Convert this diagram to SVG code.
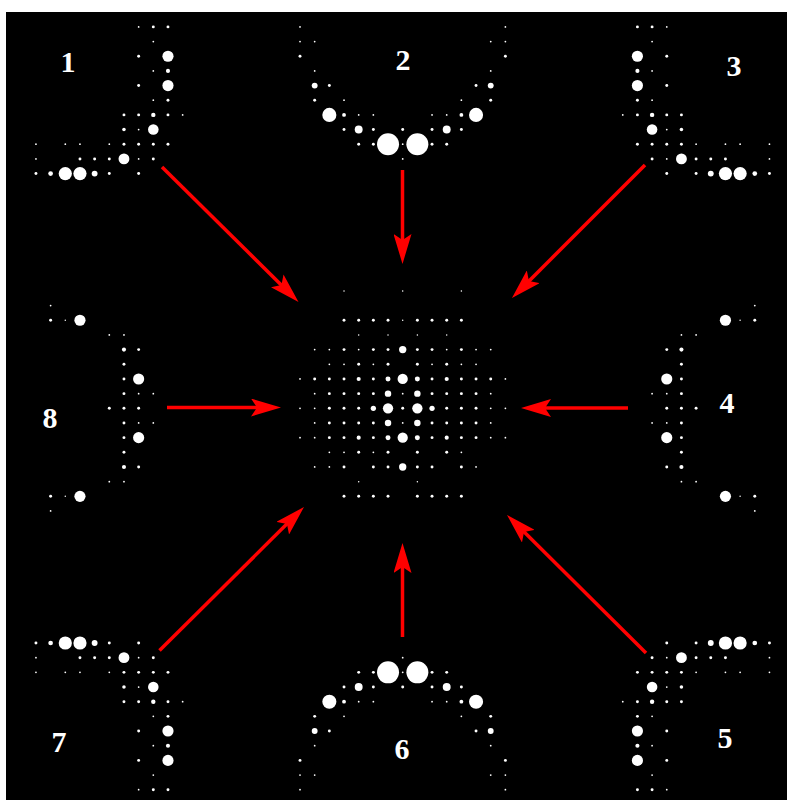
<svg xmlns="http://www.w3.org/2000/svg" xmlns:xlink="http://www.w3.org/1999/xlink" width="787" height="800" viewBox="0 0 787 800">
<style>
.lbl{font-family:"Liberation Serif","Times New Roman",serif;font-weight:bold;font-size:30px;fill:#fff;text-anchor:middle}
.arrow{stroke:#ff0000;stroke-width:3.5;fill:none;marker-end:url(#ah)}
.spots circle{fill:#fff}
</style>
<defs>
<marker id="ah" viewBox="0 0 30 18" refX="10" refY="9" markerWidth="30" markerHeight="18" markerUnits="userSpaceOnUse" orient="auto">
<path d="M0,0 L30,9 L0,18 L6,9 Z" fill="#ff0000"/>
</marker>
<g id="p1" class="spots">
<circle cx="-18" cy="-26" r="0.06"/><circle cx="-17" cy="-26" r="0.1"/><circle cx="-16" cy="-26" r="0.1"/>
<circle cx="-17" cy="-25" r="0.06"/>
<circle cx="-18" cy="-24" r="0.1"/><circle cx="-16" cy="-24" r="0.38"/>
<circle cx="-17" cy="-23" r="0.06"/><circle cx="-16" cy="-23" r="0.14"/>
<circle cx="-18" cy="-22" r="0.1"/><circle cx="-16" cy="-22" r="0.38"/>
<circle cx="-17" cy="-21" r="0.06"/><circle cx="-16" cy="-21" r="0.1"/>
<circle cx="-19" cy="-20" r="0.1"/><circle cx="-18" cy="-20" r="0.1"/><circle cx="-17" cy="-20" r="0.15"/><circle cx="-16" cy="-20" r="0.1"/><circle cx="-15" cy="-20" r="0.06"/>
<circle cx="-19" cy="-19" r="0.12"/><circle cx="-18" cy="-19" r="0.06"/><circle cx="-17" cy="-19" r="0.36"/>
<circle cx="-25" cy="-18" r="0.06"/><circle cx="-23" cy="-18" r="0.06"/><circle cx="-22" cy="-18" r="0.06"/><circle cx="-20" cy="-18" r="0.06"/><circle cx="-19" cy="-18" r="0.1"/><circle cx="-18" cy="-18" r="0.1"/><circle cx="-17" cy="-18" r="0.1"/><circle cx="-16" cy="-18" r="0.1"/>
<circle cx="-25" cy="-17" r="0.06"/><circle cx="-22" cy="-17" r="0.1"/><circle cx="-21" cy="-17" r="0.1"/><circle cx="-20" cy="-17" r="0.1"/><circle cx="-19" cy="-17" r="0.37"/><circle cx="-18" cy="-17" r="0.06"/><circle cx="-17" cy="-17" r="0.1"/>
<circle cx="-25" cy="-16" r="0.1"/><circle cx="-24" cy="-16" r="0.16"/><circle cx="-23" cy="-16" r="0.45"/><circle cx="-22" cy="-16" r="0.45"/><circle cx="-21" cy="-16" r="0.2"/><circle cx="-20" cy="-16" r="0.1"/><circle cx="-18" cy="-16" r="0.1"/>
</g>
<g id="p2" class="spots">
<circle cx="-7" cy="-26" r="0.06"/><circle cx="7" cy="-26" r="0.06"/>
<circle cx="-7" cy="-25" r="0.06"/><circle cx="-6" cy="-25" r="0.06"/><circle cx="6" cy="-25" r="0.06"/><circle cx="7" cy="-25" r="0.06"/>
<circle cx="-7" cy="-24" r="0.1"/><circle cx="7" cy="-24" r="0.1"/>
<circle cx="-6" cy="-23" r="0.06"/><circle cx="6" cy="-23" r="0.06"/>
<circle cx="-6" cy="-22" r="0.2"/><circle cx="-5" cy="-22" r="0.1"/><circle cx="5" cy="-22" r="0.1"/><circle cx="6" cy="-22" r="0.2"/>
<circle cx="-6" cy="-21" r="0.1"/><circle cx="-4" cy="-21" r="0.06"/><circle cx="4" cy="-21" r="0.06"/><circle cx="6" cy="-21" r="0.1"/>
<circle cx="-5" cy="-20" r="0.48"/><circle cx="-4" cy="-20" r="0.13"/><circle cx="-3" cy="-20" r="0.06"/><circle cx="-2" cy="-20" r="0.06"/><circle cx="2" cy="-20" r="0.06"/><circle cx="3" cy="-20" r="0.06"/><circle cx="4" cy="-20" r="0.13"/><circle cx="5" cy="-20" r="0.48"/>
<circle cx="-4" cy="-19" r="0.1"/><circle cx="-3" cy="-19" r="0.27"/><circle cx="-2" cy="-19" r="0.1"/><circle cx="0" cy="-19" r="0.1"/><circle cx="2" cy="-19" r="0.1"/><circle cx="3" cy="-19" r="0.27"/><circle cx="4" cy="-19" r="0.1"/>
<circle cx="-3" cy="-18" r="0.1"/><circle cx="-2" cy="-18" r="0.1"/><circle cx="-1" cy="-18" r="0.75"/><circle cx="0" cy="-18" r="0.06"/><circle cx="1" cy="-18" r="0.75"/><circle cx="2" cy="-18" r="0.1"/><circle cx="3" cy="-18" r="0.1"/>
<circle cx="0" cy="-17" r="0.06"/>
</g>
<g id="p8" class="spots">
<circle cx="-24" cy="-7" r="0.06"/>
<circle cx="-24" cy="-6" r="0.1"/><circle cx="-23" cy="-6" r="0.05"/><circle cx="-22" cy="-6" r="0.38"/>
<circle cx="-20" cy="-5" r="0.06"/><circle cx="-19" cy="-5" r="0.06"/>
<circle cx="-19" cy="-4" r="0.14"/><circle cx="-18" cy="-4" r="0.1"/>
<circle cx="-19" cy="-3" r="0.1"/>
<circle cx="-19" cy="-2" r="0.1"/><circle cx="-18" cy="-2" r="0.38"/>
<circle cx="-19" cy="-1" r="0.1"/><circle cx="-18" cy="-1" r="0.06"/><circle cx="-17" cy="-1" r="0.06"/>
<circle cx="-20" cy="0" r="0.1"/><circle cx="-19" cy="0" r="0.1"/><circle cx="-18" cy="0" r="0.1"/>
<circle cx="-19" cy="1" r="0.1"/><circle cx="-18" cy="1" r="0.06"/><circle cx="-17" cy="1" r="0.06"/>
<circle cx="-19" cy="2" r="0.1"/><circle cx="-18" cy="2" r="0.38"/>
<circle cx="-19" cy="3" r="0.1"/>
<circle cx="-19" cy="4" r="0.14"/><circle cx="-18" cy="4" r="0.1"/>
<circle cx="-20" cy="5" r="0.06"/><circle cx="-19" cy="5" r="0.06"/>
<circle cx="-24" cy="6" r="0.1"/><circle cx="-23" cy="6" r="0.05"/><circle cx="-22" cy="6" r="0.38"/>
<circle cx="-24" cy="7" r="0.06"/>
</g>
</defs>
<rect x="6" y="12" width="781" height="788" fill="#000"/>

<g id="center">
<g class="spots" transform="matrix(14.67 0 0 14.67 402.7 408.3)">
<circle cx="-4" cy="-8" r="0.05"/><circle cx="0" cy="-8" r="0.05"/><circle cx="4" cy="-8" r="0.05"/>
<circle cx="-4" cy="-6" r="0.1"/><circle cx="-3" cy="-6" r="0.1"/><circle cx="-2" cy="-6" r="0.1"/><circle cx="-1" cy="-6" r="0.1"/><circle cx="0" cy="-6" r="0.05"/><circle cx="1" cy="-6" r="0.1"/><circle cx="2" cy="-6" r="0.1"/><circle cx="3" cy="-6" r="0.1"/><circle cx="4" cy="-6" r="0.1"/>
<circle cx="-3" cy="-5" r="0.05"/><circle cx="-1" cy="-5" r="0.05"/><circle cx="1" cy="-5" r="0.05"/><circle cx="3" cy="-5" r="0.05"/>
<circle cx="-6" cy="-4" r="0.06"/><circle cx="-5" cy="-4" r="0.06"/><circle cx="-4" cy="-4" r="0.1"/><circle cx="-3" cy="-4" r="0.06"/><circle cx="-2" cy="-4" r="0.1"/><circle cx="-1" cy="-4" r="0.1"/><circle cx="0" cy="-4" r="0.25"/><circle cx="1" cy="-4" r="0.1"/><circle cx="2" cy="-4" r="0.1"/><circle cx="3" cy="-4" r="0.06"/><circle cx="4" cy="-4" r="0.1"/><circle cx="5" cy="-4" r="0.06"/><circle cx="6" cy="-4" r="0.06"/>
<circle cx="-5" cy="-3" r="0.06"/><circle cx="-4" cy="-3" r="0.06"/><circle cx="-3" cy="-3" r="0.1"/><circle cx="-2" cy="-3" r="0.06"/><circle cx="-1" cy="-3" r="0.1"/><circle cx="1" cy="-3" r="0.1"/><circle cx="2" cy="-3" r="0.06"/><circle cx="3" cy="-3" r="0.1"/><circle cx="4" cy="-3" r="0.06"/><circle cx="5" cy="-3" r="0.06"/>
<circle cx="-7" cy="-2" r="0.06"/><circle cx="-6" cy="-2" r="0.1"/><circle cx="-5" cy="-2" r="0.1"/><circle cx="-4" cy="-2" r="0.1"/><circle cx="-3" cy="-2" r="0.14"/><circle cx="-2" cy="-2" r="0.1"/><circle cx="-1" cy="-2" r="0.17"/><circle cx="0" cy="-2" r="0.35"/><circle cx="1" cy="-2" r="0.17"/><circle cx="2" cy="-2" r="0.1"/><circle cx="3" cy="-2" r="0.14"/><circle cx="4" cy="-2" r="0.1"/><circle cx="5" cy="-2" r="0.1"/><circle cx="6" cy="-2" r="0.1"/><circle cx="7" cy="-2" r="0.06"/>
<circle cx="-6" cy="-1" r="0.06"/><circle cx="-5" cy="-1" r="0.1"/><circle cx="-4" cy="-1" r="0.1"/><circle cx="-3" cy="-1" r="0.1"/><circle cx="-2" cy="-1" r="0.1"/><circle cx="-1" cy="-1" r="0.22"/><circle cx="0" cy="-1" r="0.06"/><circle cx="1" cy="-1" r="0.22"/><circle cx="2" cy="-1" r="0.1"/><circle cx="3" cy="-1" r="0.1"/><circle cx="4" cy="-1" r="0.1"/><circle cx="5" cy="-1" r="0.1"/><circle cx="6" cy="-1" r="0.06"/>
<circle cx="-7" cy="0" r="0.06"/><circle cx="-6" cy="0" r="0.06"/><circle cx="-5" cy="0" r="0.1"/><circle cx="-4" cy="0" r="0.1"/><circle cx="-3" cy="0" r="0.1"/><circle cx="-2" cy="0" r="0.18"/><circle cx="-1" cy="0" r="0.35"/><circle cx="0" cy="0" r="0.1"/><circle cx="1" cy="0" r="0.35"/><circle cx="2" cy="0" r="0.18"/><circle cx="3" cy="0" r="0.1"/><circle cx="4" cy="0" r="0.1"/><circle cx="5" cy="0" r="0.1"/><circle cx="6" cy="0" r="0.06"/><circle cx="7" cy="0" r="0.06"/>
<circle cx="-6" cy="1" r="0.06"/><circle cx="-5" cy="1" r="0.1"/><circle cx="-4" cy="1" r="0.1"/><circle cx="-3" cy="1" r="0.1"/><circle cx="-2" cy="1" r="0.1"/><circle cx="-1" cy="1" r="0.22"/><circle cx="0" cy="1" r="0.06"/><circle cx="1" cy="1" r="0.22"/><circle cx="2" cy="1" r="0.1"/><circle cx="3" cy="1" r="0.1"/><circle cx="4" cy="1" r="0.1"/><circle cx="5" cy="1" r="0.1"/><circle cx="6" cy="1" r="0.06"/>
<circle cx="-7" cy="2" r="0.06"/><circle cx="-6" cy="2" r="0.06"/><circle cx="-5" cy="2" r="0.1"/><circle cx="-4" cy="2" r="0.1"/><circle cx="-3" cy="2" r="0.14"/><circle cx="-2" cy="2" r="0.1"/><circle cx="-1" cy="2" r="0.17"/><circle cx="0" cy="2" r="0.35"/><circle cx="1" cy="2" r="0.17"/><circle cx="2" cy="2" r="0.1"/><circle cx="3" cy="2" r="0.14"/><circle cx="4" cy="2" r="0.1"/><circle cx="5" cy="2" r="0.1"/><circle cx="6" cy="2" r="0.06"/><circle cx="7" cy="2" r="0.06"/>
<circle cx="-5" cy="3" r="0.06"/><circle cx="-4" cy="3" r="0.06"/><circle cx="-3" cy="3" r="0.1"/><circle cx="-2" cy="3" r="0.06"/><circle cx="-1" cy="3" r="0.1"/><circle cx="1" cy="3" r="0.1"/><circle cx="3" cy="3" r="0.1"/><circle cx="4" cy="3" r="0.06"/>
<circle cx="-6" cy="4" r="0.06"/><circle cx="-5" cy="4" r="0.06"/><circle cx="-4" cy="4" r="0.1"/><circle cx="-2" cy="4" r="0.1"/><circle cx="-1" cy="4" r="0.1"/><circle cx="0" cy="4" r="0.25"/><circle cx="1" cy="4" r="0.1"/><circle cx="2" cy="4" r="0.1"/><circle cx="4" cy="4" r="0.1"/><circle cx="5" cy="4" r="0.06"/>
<circle cx="-3" cy="5" r="0.05"/><circle cx="1" cy="5" r="0.05"/>
<circle cx="-4" cy="6" r="0.1"/><circle cx="-3" cy="6" r="0.1"/><circle cx="-2" cy="6" r="0.1"/><circle cx="-1" cy="6" r="0.1"/><circle cx="1" cy="6" r="0.1"/><circle cx="2" cy="6" r="0.1"/><circle cx="3" cy="6" r="0.1"/><circle cx="4" cy="6" r="0.1"/>
</g>
</g>

<g id="pattern1"><use href="#p1" xlink:href="#p1" transform="matrix(14.67 0 0 14.67 402.7 408.3)"/><text class="lbl" x="68" y="72">1</text></g>
<g id="pattern2"><use href="#p2" xlink:href="#p2" transform="matrix(14.67 0 0 14.67 402.7 408.3)"/><text class="lbl" x="403" y="70">2</text></g>
<g id="pattern3"><use href="#p1" xlink:href="#p1" transform="matrix(-14.67 0 0 14.67 402.7 408.3)"/><text class="lbl" x="734" y="76">3</text></g>
<g id="pattern4"><use href="#p8" xlink:href="#p8" transform="matrix(-14.67 0 0 14.67 402.7 408.3)"/><text class="lbl" x="727" y="413">4</text></g>
<g id="pattern5"><use href="#p1" xlink:href="#p1" transform="matrix(-14.67 0 0 -14.67 402.7 408.3)"/><text class="lbl" x="725" y="748">5</text></g>
<g id="pattern6"><use href="#p2" xlink:href="#p2" transform="matrix(14.67 0 0 -14.67 402.7 408.3)"/><text class="lbl" x="402" y="759">6</text></g>
<g id="pattern7"><use href="#p1" xlink:href="#p1" transform="matrix(14.67 0 0 -14.67 402.7 408.3)"/><text class="lbl" x="59" y="752">7</text></g>
<g id="pattern8"><use href="#p8" xlink:href="#p8" transform="matrix(14.67 0 0 14.67 402.7 408.3)"/><text class="lbl" x="50" y="428">8</text></g>

<g id="connectors">
<line class="arrow" x1="162" y1="167" x2="284.3" y2="287.9"/>
<line class="arrow" x1="402.5" y1="170" x2="402.5" y2="244"/>
<line class="arrow" x1="645" y1="165" x2="526.1" y2="283.9"/>
<line class="arrow" x1="628" y1="408" x2="541" y2="408"/>
<line class="arrow" x1="646" y1="653" x2="521.2" y2="529.1"/>
<line class="arrow" x1="402.5" y1="637" x2="402.5" y2="563"/>
<line class="arrow" x1="159.5" y1="650.5" x2="289.8" y2="521.1"/>
<line class="arrow" x1="167" y1="407.5" x2="261" y2="407.5"/>
</g>
</svg>
